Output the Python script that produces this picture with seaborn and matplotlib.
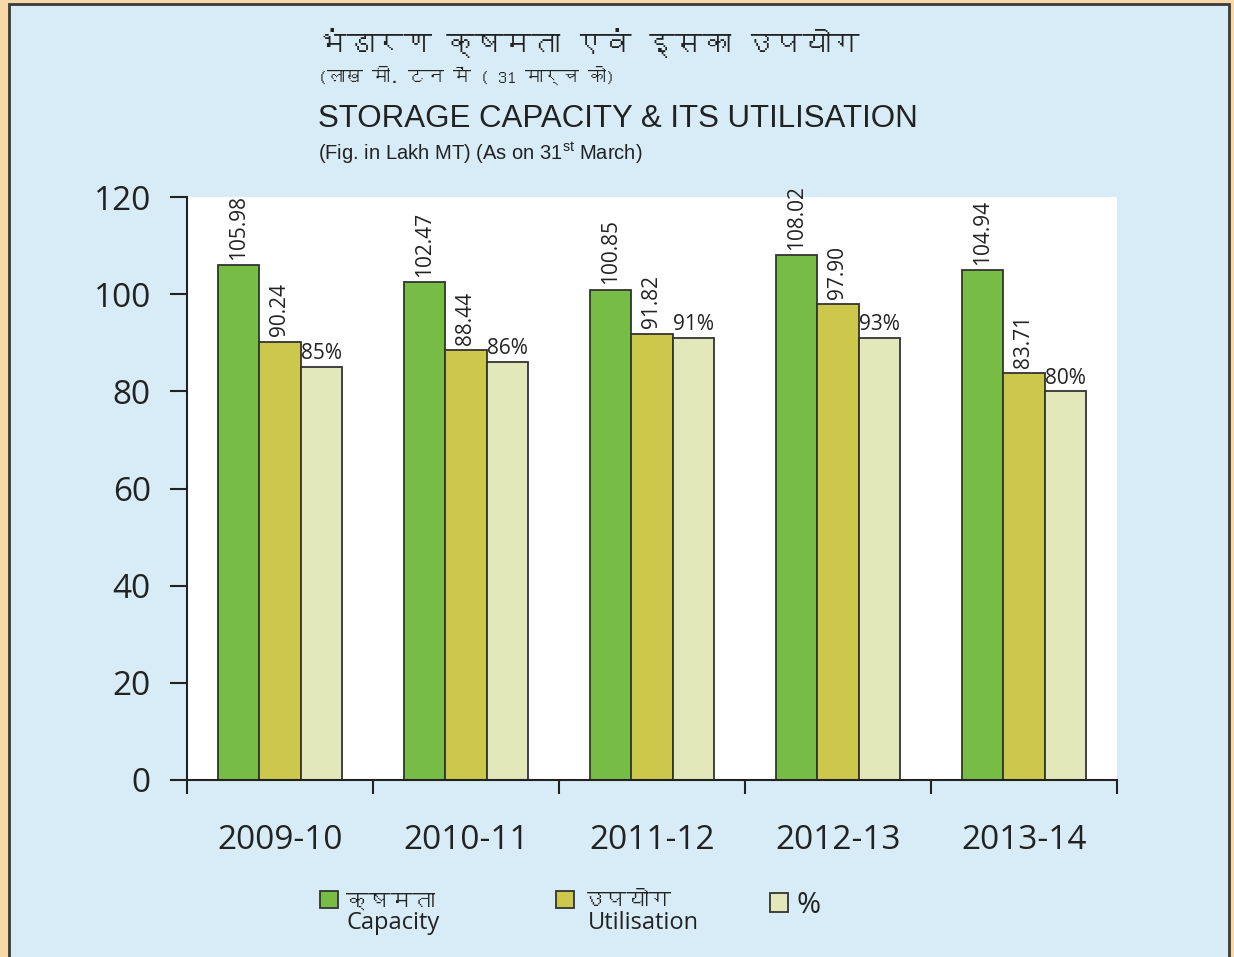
import pandas as pd
import seaborn as sns
import matplotlib.pyplot as plt
from matplotlib import font_manager
from matplotlib.ft2font import FT2Font
from matplotlib.patches import Rectangle

# Data (Lakh MT, as on 31st March)
years = ['2009-10', '2010-11', '2011-12', '2012-13', '2013-14']
capacity = [105.98, 102.47, 100.85, 108.02, 104.94]
utilisation = [90.24, 88.44, 91.82, 97.90, 83.71]
pct_bar = [85, 86, 91, 91, 80]
pct_label = ['85%', '86%', '91%', '93%', '80%']

series_hi = ['क्षमता', 'उपयोग', '%']
series_en = ['Capacity', 'Utilisation', '']
colors = ['#77bd45', '#cbc84b', '#e3e8ba']


def find_font(char):
    # first installed family that has a glyph for char
    seen = set()
    for f in font_manager.fontManager.ttflist:
        if f.fname in seen:
            continue
        seen.add(f.fname)
        try:
            if ord(char) in FT2Font(f.fname).get_charmap():
                return f.name
        except Exception:
            pass
    return None


sns.set_style('ticks')
deva = find_font('क')
base_fonts = ['Open Sans', 'DejaVu Sans']
plt.rcParams['font.family'] = ([deva] if deva else []) + base_fonts
plt.rcParams['mathtext.default'] = 'regular'
mixed = base_fonts[:1] + ([deva] if deva else []) + base_fonts[1:]
narrow = ['Liberation Sans Narrow', 'Liberation Sans', 'DejaVu Sans']

df = pd.DataFrame({
    'year': years * 3,
    'series': [series_hi[0]] * 5 + [series_hi[1]] * 5 + [series_hi[2]] * 5,
    'value': capacity + utilisation + pct_bar,
})

fig = plt.figure(figsize=(12.34, 9.57), dpi=100, facecolor='#f7d9a9')
# light blue panel with dark frame
fig.patches.append(Rectangle((9 / 1234, -0.05), 1220 / 1234, 1.05 - 4 / 957,
                             transform=fig.transFigure, facecolor='#d7ecf6',
                             edgecolor='#3a3a3a', linewidth=2, zorder=-5))

ax = fig.add_axes([187 / 1234, 1 - 780 / 957, 930 / 1234, 583 / 957])
ax.set_zorder(2)
ax.set_facecolor('white')

sns.barplot(data=df, x='year', y='value', hue='series', palette=colors,
            width=0.67, saturation=1, edgecolor='#333333', linewidth=1.3,
            legend=False, ax=ax)

txt = '#222222'
for i, cont in enumerate(ax.containers):
    if i < 2:
        vals = capacity if i == 0 else utilisation
        ax.bar_label(cont, labels=[f'{v:.2f}' for v in vals], rotation=90,
                     padding=4, fontsize=15, color=txt, family=mixed)
    else:
        ax.bar_label(cont, labels=pct_label, padding=2, fontsize=15,
                     color=txt, family=mixed)

ax.set_ylim(0, 120)
ax.set_xlim(-0.5, 4.5)
ax.set_yticks(range(0, 121, 20))
ax.set_xticks(range(len(years)))
ax.set_xticks([i - 0.5 for i in range(len(years) + 1)], minor=True)
ax.tick_params(axis='y', length=12, width=1.5, labelsize=24, pad=14, colors=txt)
ax.tick_params(axis='x', which='major', length=0, labelsize=24, pad=32, colors=txt)
ax.tick_params(axis='x', which='minor', length=10, width=1.5, colors=txt)
for lab in ax.get_xticklabels() + ax.get_yticklabels():
    lab.set_family(mixed)
ax.set_xlabel('')
ax.set_ylabel('')
for s in ['top', 'right']:
    ax.spines[s].set_visible(False)
for s in ['left', 'bottom']:
    ax.spines[s].set_linewidth(1.5)
    ax.spines[s].set_color('#222222')

# titles
fig.text(318 / 1234, 1 - 43 / 957, 'भंडारण क्षमता एवं इसका उपयोग',
         fontsize=20.5, va='center', ha='left', color=txt)
fig.text(318 / 1234, 1 - 75 / 957, '(लाख मी. टन में ( 31 मार्च को)',
         fontsize=13, va='center', ha='left', color=txt)
fig.text(318 / 1234, 1 - 119 / 957, 'STORAGE CAPACITY & ITS UTILISATION',
         fontsize=22.5, va='center', ha='left', color=txt, family=narrow)
fig.text(318 / 1234, 1 - 153 / 957, '(Fig. in Lakh MT) (As on 31$^{st}$ March)',
         fontsize=14.5, va='center', ha='left', color=txt, family=narrow)

# legend: one entry per block, English name written under the Hindi one
leg_x = [320, 556, 770]
en_x = [347, 588, 0]
for name, en, col, x, ex in zip(series_hi, series_en, colors, leg_x, en_x):
    h = Rectangle((0, 0), 1, 1, facecolor=col, edgecolor='#333333', linewidth=1.3)
    size = 16 if name != '%' else 21
    leg = fig.legend([h], [name], loc='upper left',
                     bbox_to_anchor=(x / 1234, 1 - 891 / 957),
                     frameon=False, borderpad=0, borderaxespad=0,
                     handlelength=13 / size, handleheight=13 / size,
                     handletextpad=6 / size, prop={'family': mixed, 'size': size})
    for t in leg.get_texts():
        t.set_color(txt)
    if en:
        fig.text(ex / 1234, 1 - 923 / 957, en, fontsize=17,
                 va='center', ha='left', color=txt, family=mixed)

fig.savefig('out.png', dpi=100, facecolor=fig.get_facecolor())
